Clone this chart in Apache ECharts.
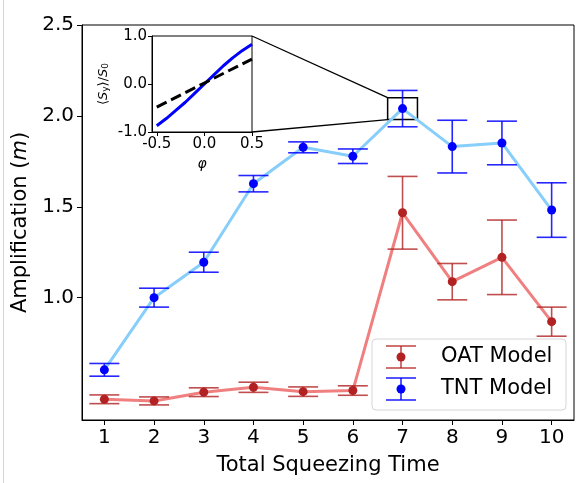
<!DOCTYPE html>
<html><head><meta charset="utf-8">
<script src="https://cdn.jsdelivr.net/npm/echarts@6/dist/echarts.min.js"></script>
<style>html,body{margin:0;padding:0;background:#fff}#c{width:582px;height:483px}</style>
</head><body><div id="c"></div>
<script>
// ---- data ----
const times = [1, 2, 3, 4, 5, 6, 7, 8, 9, 10];
const oatValues = [0.441, 0.432, 0.480, 0.507, 0.483, 0.489, 1.467, 1.088, 1.222, 0.868];
const oatErrors = [0.024, 0.022, 0.024, 0.028, 0.026, 0.026, 0.200, 0.100, 0.205, 0.080];
const tntValues = [0.603, 1.000, 1.195, 1.627, 1.827, 1.778, 2.040, 1.831, 1.851, 1.482];
const tntErrors = [0.035, 0.052, 0.055, 0.045, 0.030, 0.040, 0.100, 0.145, 0.120, 0.150];
const xTicks = [1, 2, 3, 4, 5, 6, 7, 8, 9, 10];
const yTicks = [1.0, 1.5, 2.0, 2.5];
const seriesNames = ['OAT Model', 'TNT Model'];
// inset
const insetPhi = [-0.5, -0.4, -0.3, -0.2, -0.1, 0.0, 0.1, 0.2, 0.3, 0.4, 0.5];
const insetTNT = [-0.87, -0.72, -0.55, -0.38, -0.19, 0.0, 0.19, 0.38, 0.55, 0.70, 0.83];
const insetOATPhi = [-0.5, 0.0, 0.5];
const insetOAT = [-0.48, 0.02, 0.52];
const insetXTicks = [-0.5, 0.0, 0.5];
const insetYTicks = [-1.0, 0.0, 1.0];
const zoomBoxX = [6.7, 7.3];
const zoomBoxY = [1.98, 2.10];

// ---- styles ----
const FONT = 'DejaVu Sans';
const OAT_LINE = '#F08080', OAT_MARK = '#B22222', OAT_ERR = 'rgba(178,34,34,0.8)';
const TNT_LINE = '#87CEFA', TNT_MARK = '#0000FF', TNT_ERR = 'rgba(0,0,255,0.85)';

const chart = echarts.init(document.getElementById('c'), null, {renderer: 'canvas'});

function errorSeries(name, values, errors, color) {
  return {
    type: 'custom', name: name, xAxisIndex: 0, yAxisIndex: 0, z: 4, clip: false,
    data: values.map((v, i) => [times[i], v - errors[i], v + errors[i]]),
    encode: {x: 0, y: [1, 2]},
    renderItem: function (params, api) {
      const x = api.value(0);
      const lo = api.coord([x, api.value(1)]);
      const hi = api.coord([x, api.value(2)]);
      const hw = 15;
      const style = {stroke: color, lineWidth: 1.6};
      return {type: 'group', children: [
        {type: 'line', shape: {x1: lo[0], y1: lo[1], x2: hi[0], y2: hi[1]}, style: style},
        {type: 'line', shape: {x1: lo[0] - hw, y1: lo[1], x2: lo[0] + hw, y2: lo[1]}, style: style},
        {type: 'line', shape: {x1: hi[0] - hw, y1: hi[1], x2: hi[0] + hw, y2: hi[1]}, style: style}
      ]};
    }
  };
}

const axisText = {color: '#000', fontFamily: FONT};

const option = {
  animation: false,
  backgroundColor: '#fff',
  grid: [
    {left: 82, right: 8, top: 25, bottom: 63, show: true, borderColor: '#000', borderWidth: 1,
     containLabel: false, outerBoundsMode: 'none'},
    {left: 152, top: 36, width: 100, height: 96, show: true, borderColor: '#000', borderWidth: 1,
     backgroundColor: '#fff', containLabel: false, outerBoundsMode: 'none', z: 10}
  ],
  xAxis: [
    {type: 'value', gridIndex: 0, min: 0.55, max: 10.45,
     name: 'Total Squeezing Time', nameLocation: 'middle', nameGap: 35,
     nameTextStyle: Object.assign({fontSize: 21}, axisText),
     axisLine: {show: true, onZero: false, lineStyle: {color: '#000', width: 1}},
     axisTick: {show: true, customValues: xTicks, length: 5, lineStyle: {color: '#000'}},
     axisLabel: Object.assign({customValues: xTicks, fontSize: 20, margin: 8}, axisText),
     splitLine: {show: false}},
    {type: 'value', gridIndex: 1, min: -0.55, max: 0.5, z: 10,
     name: 'φ', nameLocation: 'middle', nameGap: 25,
     nameTextStyle: Object.assign({fontSize: 14, fontStyle: 'italic'}, axisText),
     axisLine: {show: true, onZero: false, lineStyle: {color: '#000', width: 1}},
     axisTick: {show: true, customValues: insetXTicks, length: 4, lineStyle: {color: '#000'}},
     axisLabel: Object.assign({customValues: insetXTicks, fontSize: 15, margin: 5,
       formatter: v => v.toFixed(1)}, axisText),
     splitLine: {show: false}}
  ],
  yAxis: [
    {type: 'value', gridIndex: 0, min: 0.327, max: 2.5,
     name: 'Amplification ({i|m})', nameLocation: 'middle', nameGap: 37, nameRotate: 90,
     nameTextStyle: Object.assign({fontSize: 21, rich: {i: {fontSize: 21, fontStyle: 'italic', fontFamily: FONT, color: '#000'}}}, axisText),
     axisLine: {show: true, onZero: false, lineStyle: {color: '#000', width: 1}},
     axisTick: {show: true, customValues: yTicks, length: 5, lineStyle: {color: '#000'}},
     axisLabel: Object.assign({customValues: yTicks, fontSize: 20, margin: 8,
       formatter: v => v.toFixed(1)}, axisText),
     splitLine: {show: false}},
    {type: 'value', gridIndex: 1, min: -1, max: 1, interval: 1, z: 10,
     name: '⟨{s|S}{sub|y}⟩/{s|S}{sub|0}', nameLocation: 'middle', nameGap: 42, nameRotate: 90,
     nameTextStyle: Object.assign({fontSize: 13, rich: {
       s: {fontSize: 13, fontStyle: 'italic', fontFamily: FONT, color: '#000'},
       sub: {fontSize: 9, fontFamily: FONT, color: '#000', verticalAlign: 'bottom', lineHeight: 13, padding: [4, 0, 0, 0]}
     }}, axisText),
     axisLine: {show: true, onZero: false, lineStyle: {color: '#000', width: 1}},
     axisTick: {show: true, length: 4, lineStyle: {color: '#000'}},
     axisLabel: Object.assign({fontSize: 15, margin: 5, formatter: v => v.toFixed(1)}, axisText),
     splitLine: {show: false}}
  ],
  series: [
    {type: 'line', name: 'OAT line', xAxisIndex: 0, yAxisIndex: 0, z: 2, showSymbol: false,
     data: times.map((t, i) => [t, oatValues[i]]), lineStyle: {color: OAT_LINE, width: 3}},
    {type: 'line', name: 'TNT line', xAxisIndex: 0, yAxisIndex: 0, z: 2, showSymbol: false,
     data: times.map((t, i) => [t, tntValues[i]]), lineStyle: {color: TNT_LINE, width: 3},
     markArea: {silent: true, itemStyle: {color: 'rgba(0,0,0,0)', borderColor: '#000', borderWidth: 1.5},
       data: [[{coord: [zoomBoxX[0], zoomBoxY[1]]}, {coord: [zoomBoxX[1], zoomBoxY[0]]}]]}},
    errorSeries(seriesNames[0], oatValues, oatErrors, OAT_ERR),
    errorSeries(seriesNames[1], tntValues, tntErrors, TNT_ERR),
    {type: 'scatter', name: seriesNames[0], xAxisIndex: 0, yAxisIndex: 0, z: 5, symbolSize: 9,
     data: times.map((t, i) => [t, oatValues[i]]), itemStyle: {color: OAT_MARK, opacity: 1}},
    {type: 'scatter', name: seriesNames[1], xAxisIndex: 0, yAxisIndex: 0, z: 5, symbolSize: 9,
     data: times.map((t, i) => [t, tntValues[i]]), itemStyle: {color: TNT_MARK, opacity: 1}},
    // inset
    {type: 'line', xAxisIndex: 1, yAxisIndex: 1, z: 12, showSymbol: false,
     data: insetPhi.map((p, i) => [p, insetTNT[i]]), lineStyle: {color: '#0000FF', width: 3}},
    {type: 'line', xAxisIndex: 1, yAxisIndex: 1, z: 12, showSymbol: false,
     data: insetOATPhi.map((p, i) => [p, insetOAT[i]]), lineStyle: {color: '#000', width: 3, type: [11, 5]}}
  ]
};
chart.setOption(option);

// connector lines (mark_inset) + manual legend
const pA = chart.convertToPixel({xAxisIndex: 1, yAxisIndex: 1}, [0.5, 1]);
const pB = chart.convertToPixel({xAxisIndex: 1, yAxisIndex: 1}, [0.5, -1]);
const qA = chart.convertToPixel({xAxisIndex: 0, yAxisIndex: 0}, [zoomBoxX[0], zoomBoxY[1]]);
const qB = chart.convertToPixel({xAxisIndex: 0, yAxisIndex: 0}, [zoomBoxX[0], zoomBoxY[0]]);

function legendIcon(cx, cy, errColor, markColor) {
  const s = {stroke: errColor, lineWidth: 1.6};
  return [
    {type: 'line', shape: {x1: cx, y1: cy - 11, x2: cx, y2: cy + 11}, style: s, z: 30},
    {type: 'line', shape: {x1: cx - 15, y1: cy - 11, x2: cx + 15, y2: cy - 11}, style: s, z: 30},
    {type: 'line', shape: {x1: cx - 15, y1: cy + 11, x2: cx + 15, y2: cy + 11}, style: s, z: 30},
    {type: 'circle', shape: {cx: cx, cy: cy, r: 4.5}, style: {fill: markColor}, z: 31}
  ];
}
const lg = {x: 372, y: 339, w: 194, h: 71};
const graphics = [
  {type: 'line', shape: {x1: pA[0], y1: pA[1], x2: qA[0], y2: qA[1]}, style: {stroke: '#000', lineWidth: 1.3}, z: 20},
  {type: 'line', shape: {x1: pB[0], y1: pB[1], x2: qB[0], y2: qB[1]}, style: {stroke: '#000', lineWidth: 1.3}, z: 20},
  {type: 'line', shape: {x1: 3.5, y1: 0, x2: 3.5, y2: 483}, style: {stroke: '#d4d4d4', lineWidth: 1}, z: 1},
  {type: 'rect', shape: {x: lg.x, y: lg.y, width: lg.w, height: lg.h, r: 4},
   style: {fill: 'rgba(255,255,255,0.8)', stroke: '#d6d6d6', lineWidth: 1}, z: 29},
  ...legendIcon(401, 357, OAT_ERR, OAT_MARK),
  ...legendIcon(401, 389, TNT_ERR, TNT_MARK),
  {type: 'text', x: 441, y: 357, z: 31, style: {text: seriesNames[0], font: '21px "DejaVu Sans"', fill: '#000', verticalAlign: 'middle'}},
  {type: 'text', x: 441, y: 389, z: 31, style: {text: seriesNames[1], font: '21px "DejaVu Sans"', fill: '#000', verticalAlign: 'middle'}}
];
chart.setOption({graphic: graphics});
</script>
</body></html>
